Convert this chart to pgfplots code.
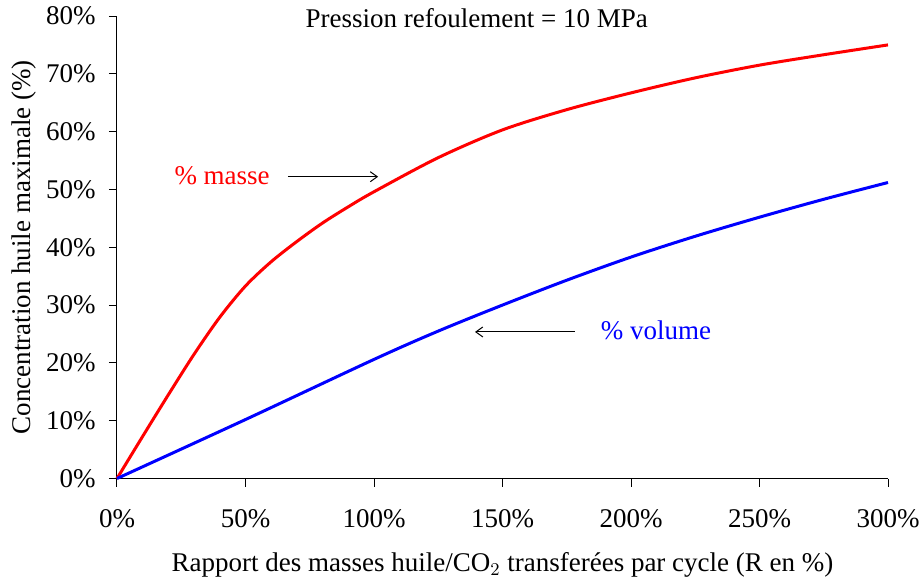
\documentclass[border=0pt]{standalone}
\usepackage{pgfplots}
\pgfplotsset{compat=1.18}
\usetikzlibrary{arrows.meta}
\usepackage{fontspec}
\setmainfont{Liberation Serif}
\begin{document}
\fontsize{13.5}{16}\selectfont
\begin{tikzpicture}
\begin{axis}[
  at={(0,0)}, anchor=south west,
  scale only axis,
  width=385.5pt, height=231.25pt,
  xmin=0, xmax=300, ymin=0, ymax=80,
  axis x line=bottom, axis y line=left,
  axis line style={-, line width=0.5pt},
  tick align=outside,
  major tick length=4pt,
  tick style={line width=0.5pt, black},
  xtick={0,50,100,150,200,250,300},
  xticklabels={0\%,50\%,100\%,150\%,200\%,250\%,300\%},
  ytick={0,10,20,30,40,50,60,70,80},
  yticklabels={0\%,10\%,20\%,30\%,40\%,50\%,60\%,70\%,80\%},
  xticklabel style={yshift=-7pt},
  yticklabel style={xshift=-2pt},
  xlabel={Rapport des masses huile/CO$_2$ transferées par cycle (R en \%)},
  ylabel={Concentration huile maximale (\%)},
  xlabel style={yshift=-3pt},
  ylabel style={yshift=-4.5pt},
  clip=false,
]
\addplot[red, line width=1.5pt, smooth, tension=0.5] coordinates {
 (0,0) (10,7.3) (20,14.5) (30,21.5) (40,27.9) (50,33.3) (60,37.5) (70,41.0)
 (80,44.2) (90,47) (100,49.6) (125,55.5) (150,60.3) (175,63.8) (200,66.7)
 (225,69.3) (250,71.5) (275,73.3) (300,75)
};
\addplot[blue, line width=1.5pt, smooth, tension=0.5] coordinates {
 (0,0) (50,10.2) (100,20.6) (125,25.5) (150,30) (175,34.3) (200,38.3)
 (225,41.9) (250,45.2) (275,48.3) (300,51.2)
};
\node at (axis cs:140,79.6) {Pression refoulement = 10 MPa};
\node[red] at (axis cs:40.9,52.3) {\% masse};
\draw[-{Straight Barb[length=3.5pt,width=5pt]}, line width=0.5pt] (axis cs:66.5,52.2) -- (axis cs:101.6,52.2);
\node[blue] at (axis cs:209.7,25.7) {\% volume};
\draw[-{Straight Barb[length=3.5pt,width=5pt]}, line width=0.5pt] (axis cs:178.2,25.35) -- (axis cs:139.3,25.35);
\end{axis}
\pgfresetboundingbox
\path[use as bounding box] (-58.5pt,-50.75pt) rectangle (401.5pt,239.25pt);
\end{tikzpicture}
\end{document}
